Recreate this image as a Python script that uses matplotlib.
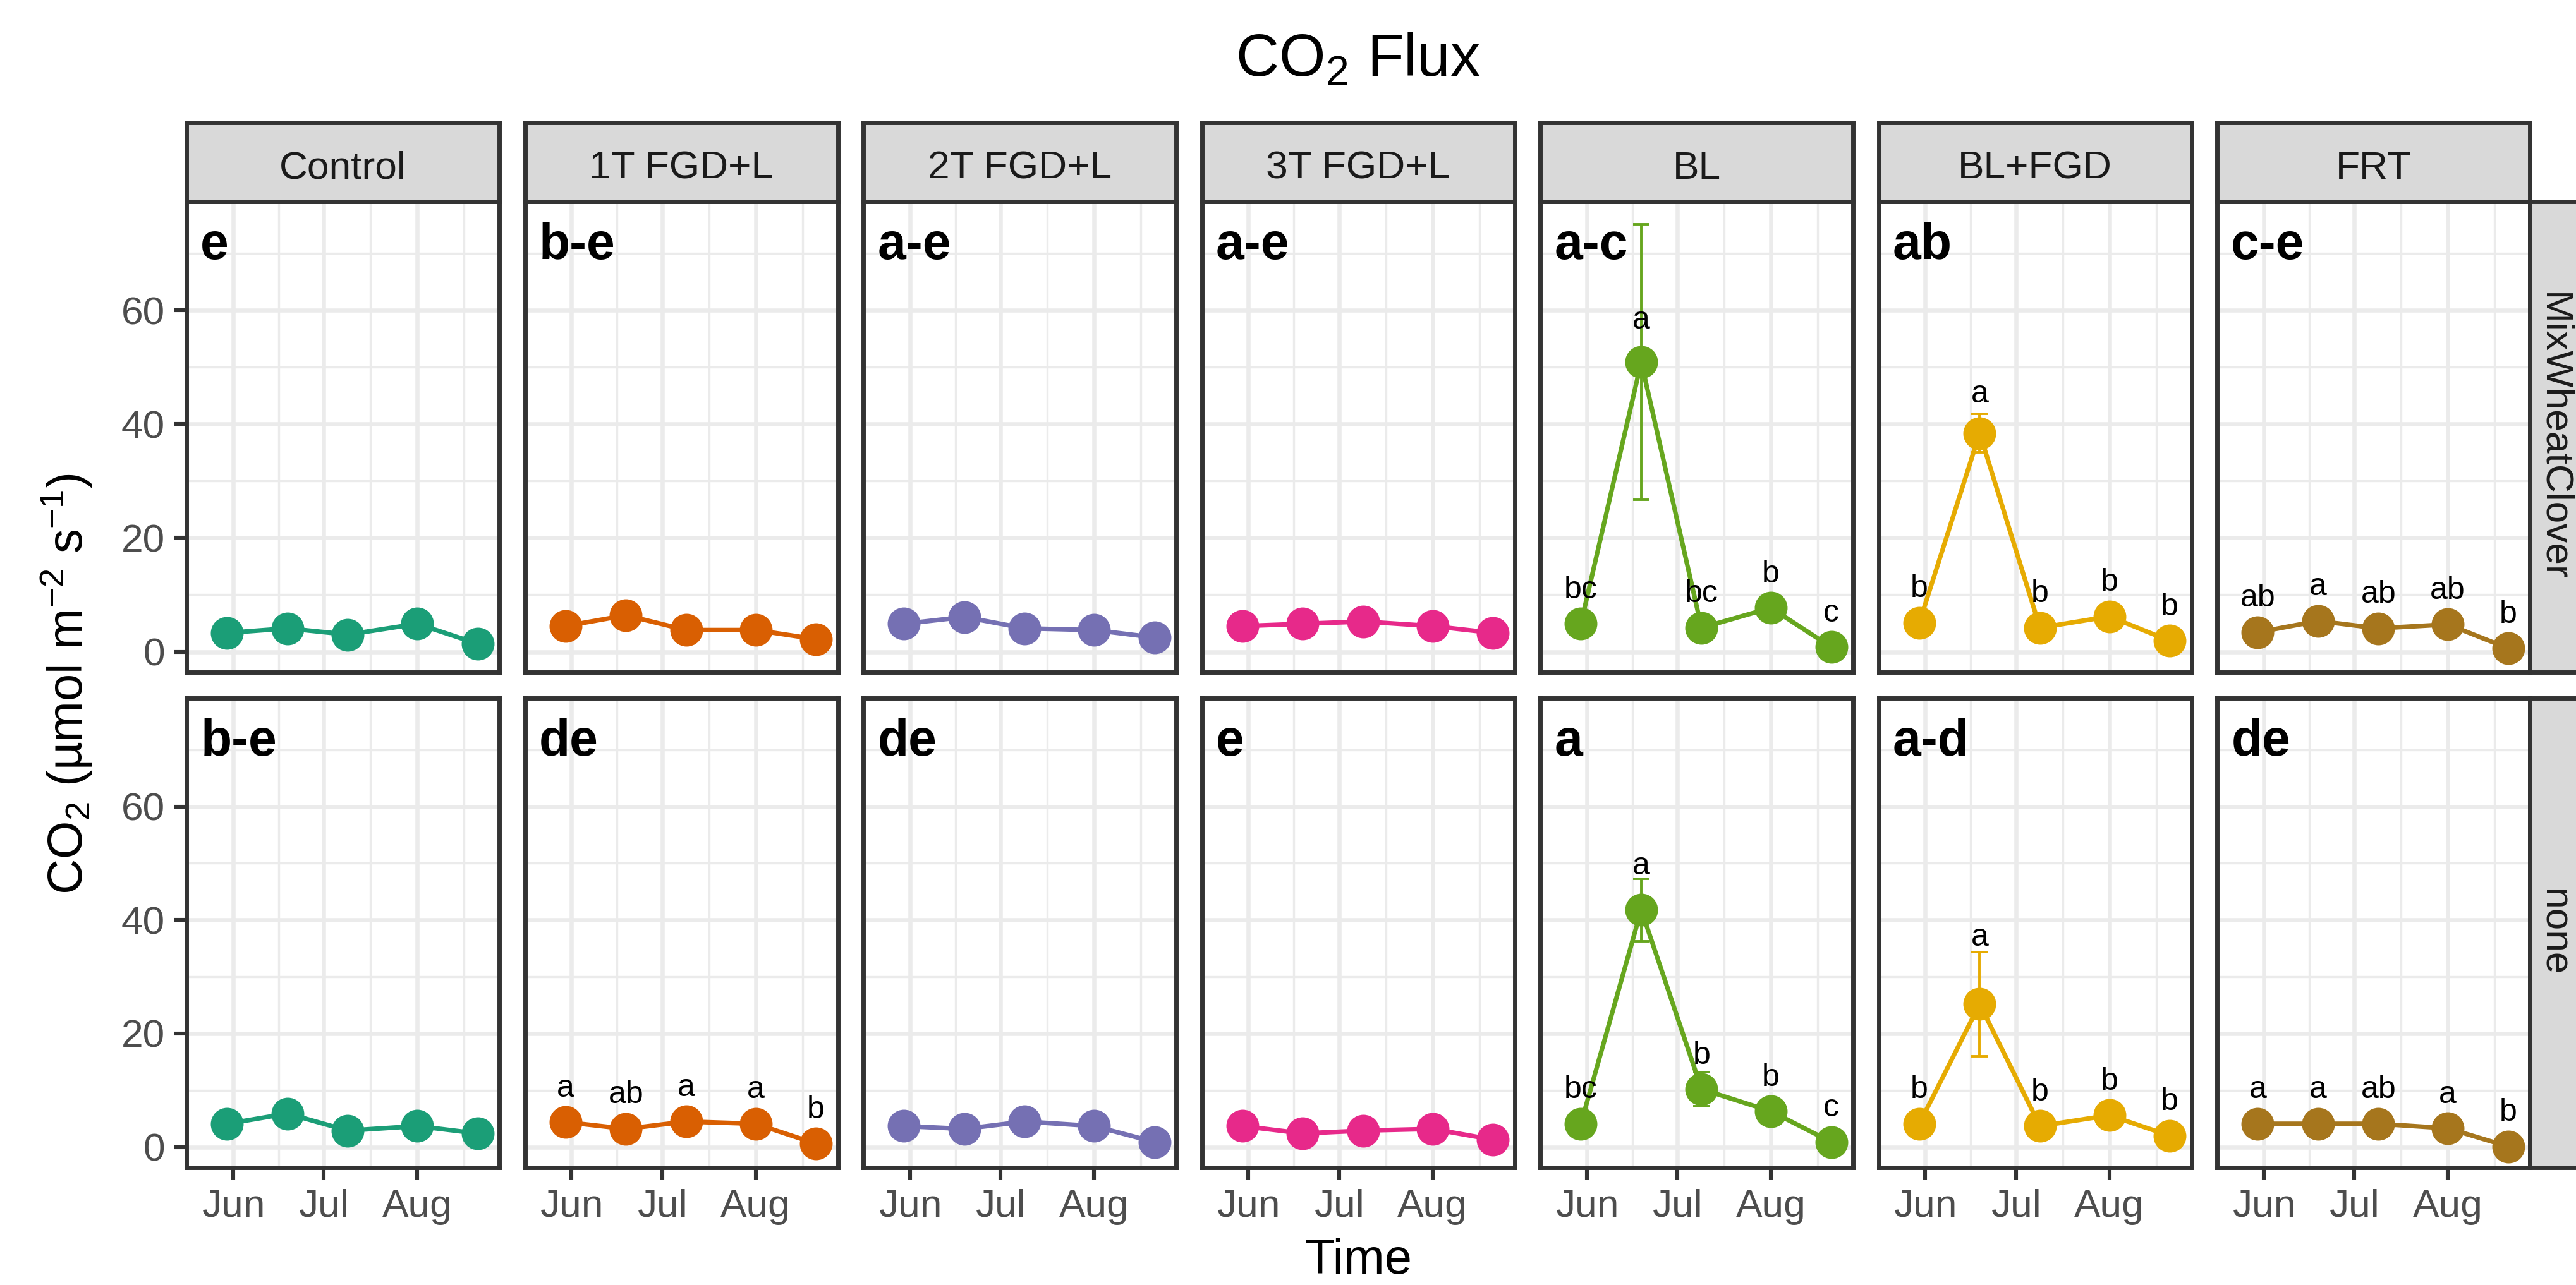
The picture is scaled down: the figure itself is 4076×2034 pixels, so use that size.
import datetime as dt
import matplotlib
matplotlib.use("Agg")
import matplotlib.pyplot as plt
import matplotlib.dates as mdates

plt.rcParams['font.family'] = ['Liberation Sans', 'DejaVu Sans']
plt.rcParams['mathtext.fontset'] = 'custom'
plt.rcParams['mathtext.rm'] = 'Liberation Sans'
plt.rcParams['mathtext.it'] = 'Liberation Sans:italic'
plt.rcParams['mathtext.bf'] = 'Liberation Sans:bold'

# ---- data ----
treatments = ["Control", "1T FGD+L", "2T FGD+L", "3T FGD+L", "BL", "BL+FGD", "FRT"]
cover = ["MixWheatClover", "none"]
dates = [dt.date(2016, 5, 30), dt.date(2016, 6, 19), dt.date(2016, 7, 9),
         dt.date(2016, 8, 1), dt.date(2016, 8, 21)]
month_ticks = [dt.date(2016, 6, 1), dt.date(2016, 7, 1), dt.date(2016, 8, 1)]
month_labels = ["Jun", "Jul", "Aug"]

mix_mean = [
    [3.3, 4.1, 3.0, 4.9, 1.4],
    [4.5, 6.4, 3.8, 3.8, 2.2],
    [4.9, 6.1, 4.1, 3.8, 2.5],
    [4.5, 4.9, 5.3, 4.5, 3.3],
    [4.9, 50.9, 4.2, 7.7, 0.8],
    [5.1, 38.4, 4.2, 6.2, 1.9],
    [3.4, 5.4, 4.1, 4.8, 0.6],
]
mix_se = [
    [0.6, 0.9, 0.5, 1.0, 0.4],
    [0.8, 1.2, 0.6, 0.7, 0.5],
    [0.9, 1.1, 0.7, 0.6, 0.5],
    [0.7, 0.8, 1.0, 0.9, 0.6],
    [1.2, 24.2, 1.0, 1.5, 0.3],
    [1.0, 3.4, 0.9, 1.2, 0.5],
    [0.6, 0.9, 0.7, 0.8, 0.2],
]
mix_letters = [
    None, None, None, None,
    ["bc", "a", "bc", "b", "c"],
    ["b", "a", "b", "b", "b"],
    ["ab", "a", "ab", "ab", "b"],
]
mix_group = ["e", "b-e", "a-e", "a-e", "a-c", "ab", "c-e"]

none_mean = [
    [4.1, 5.9, 2.9, 3.7, 2.4],
    [4.4, 3.2, 4.5, 4.1, 0.6],
    [3.7, 3.2, 4.5, 3.7, 0.9],
    [3.7, 2.4, 2.9, 3.2, 1.3],
    [4.1, 41.8, 10.2, 6.3, 0.9],
    [4.1, 25.2, 3.7, 5.6, 2.0],
    [4.1, 4.1, 4.1, 3.3, 0.1],
]
none_se = [
    [0.7, 1.0, 0.5, 0.6, 0.5],
    [0.8, 0.6, 0.9, 0.7, 0.2],
    [0.6, 0.5, 0.8, 0.7, 0.3],
    [0.6, 0.4, 0.5, 0.6, 0.3],
    [1.0, 5.5, 3.0, 1.2, 0.3],
    [0.9, 9.2, 0.8, 1.1, 0.5],
    [0.5, 0.6, 0.7, 0.6, 0.1],
]
none_letters = [
    None,
    ["a", "ab", "a", "a", "b"],
    None, None,
    ["bc", "a", "b", "b", "c"],
    ["b", "a", "b", "b", "b"],
    ["a", "a", "ab", "a", "b"],
]
none_group = ["b-e", "de", "de", "e", "a", "a-d", "de"]

colors = ["#1B9E77", "#D95F02", "#7570B3", "#E7298A", "#66A61E", "#E6AB02", "#A6761D"]

# letter gap above the mean; the June peaks sit a bit higher
label_lift = 4.5
peak_lift = {(0, 4): 5.9, (0, 5): 5.4, (1, 4): 6.3, (1, 5): 10.3}

# ---- layout (pixels of a 4076x2034 canvas) ----
W, H = 4076, 2034
fig = plt.figure(figsize=(W / 200, H / 200), dpi=200)
fig.patch.set_facecolor("white")

col_left = [295 + i * 535.5 for i in range(7)]
panel_w = 495
row_top = [319, 1105]
row_bot = [1064, 1848]
strip_h = 125
dark = "#333333"
grid_c = "#EBEBEB"

x0 = mdates.date2num(month_ticks[0])
xlim = (x0 - 8.4, x0 + 88.2)
edges = [dt.date(2016, 5, 1)] + month_ticks + [dt.date(2016, 9, 1)]
minor_x = [(mdates.date2num(a) + mdates.date2num(b)) / 2 for a, b in zip(edges[:-1], edges[1:])]
xd = [mdates.date2num(d) for d in dates]

rows = [(mix_mean, mix_se, mix_letters, mix_group), (none_mean, none_se, none_letters, none_group)]

for r, (means, ses, letters, groups) in enumerate(rows):
    for c, trt in enumerate(treatments):
        rect = [col_left[c] / W, 1 - row_bot[r] / H, panel_w / W, (row_bot[r] - row_top[r]) / H]
        ax = fig.add_axes(rect)
        ax.set_xlim(*xlim)
        ax.set_ylim(-3.6, 79.1)
        ax.set_xticks([mdates.date2num(d) for d in month_ticks])
        ax.set_xticks(minor_x, minor=True)
        ax.set_yticks([0, 20, 40, 60])
        ax.set_yticks([10, 30, 50, 70], minor=True)
        ax.grid(which="major", color=grid_c, lw=2.35)
        ax.grid(which="minor", color=grid_c, lw=1.2)
        ax.set_axisbelow(True)
        for s in ax.spines.values():
            s.set_color(dark)
            s.set_linewidth(2.5)
            s.set_zorder(5)
        ax.tick_params(which="minor", length=0)
        ax.tick_params(which="major", length=7.2, width=2.2, color=dark,
                       labelsize=22.4, labelcolor="#4D4D4D", pad=5)
        if r == 1:
            ax.set_xticklabels(month_labels)
        else:
            ax.tick_params(axis="x", which="major", length=0, labelbottom=False)
        if c != 0:
            ax.tick_params(axis="y", which="major", length=0, labelleft=False)

        col = colors[c]
        ax.errorbar(xd, means[c], yerr=ses[c], fmt="none", ecolor=col,
                    elinewidth=1.4, capsize=4.8, capthick=1.4, zorder=2)
        ax.plot(xd, means[c], color=col, lw=2.6, zorder=3)
        ax.plot(xd, means[c], "o", color=col, ms=18.7, mew=0, zorder=4)

        if letters[c] is not None:
            for i, (xi, yi, lab) in enumerate(zip(xd, means[c], letters[c])):
                lift = peak_lift.get((r, c), label_lift) if i == 1 else label_lift
                ax.text(xi, yi + lift, lab, ha="center", va="baseline", fontsize=18,
                        color="black", zorder=6)

        ax.text(0.045, 0.878, groups[c], transform=ax.transAxes, fontsize=29,
                fontweight="bold", ha="left", va="baseline", color="black")

        # top strips
        if r == 0:
            sax = fig.add_axes([col_left[c] / W, 1 - row_top[0] / H, panel_w / W, strip_h / H])
            sax.set_facecolor("#D9D9D9")
            sax.set_xticks([])
            sax.set_yticks([])
            for s in sax.spines.values():
                s.set_color(dark)
                s.set_linewidth(2.5)
            sax.text(0.5, 0.29, trt, transform=sax.transAxes, ha="center", va="baseline",
                     fontsize=22.4, color="#1A1A1A")

    # right strips (run off the canvas edge, as in the original)
    rax = fig.add_axes([4003 / W, 1 - row_bot[r] / H, strip_h / W, (row_bot[r] - row_top[r]) / H])
    rax.set_facecolor("#D9D9D9")
    rax.set_xticks([])
    rax.set_yticks([])
    for s in rax.spines.values():
        s.set_color(dark)
        s.set_linewidth(2.5)
    fig.text(4040 / W, 1 - (row_top[r] + row_bot[r]) / 2 / H, cover[r], rotation=-90,
             ha="center", va="center", fontsize=22.4, color="#1A1A1A")

fig.text(2149 / W, 1 - 120 / H, "CO$_2$ Flux", ha="center", va="baseline", fontsize=34, color="black")
fig.text(2149 / W, 1 - 2016 / H, "Time", ha="center", va="baseline", fontsize=28, color="black")
fig.text(105 / W, 1 - 1083 / H, "CO$_2$ (\u00b5mol m$^{-2}$ s$^{-1}$)", rotation=90,
         ha="center", va="center", fontsize=28, color="black")

fig.savefig("out.png", dpi=200, facecolor="white")
